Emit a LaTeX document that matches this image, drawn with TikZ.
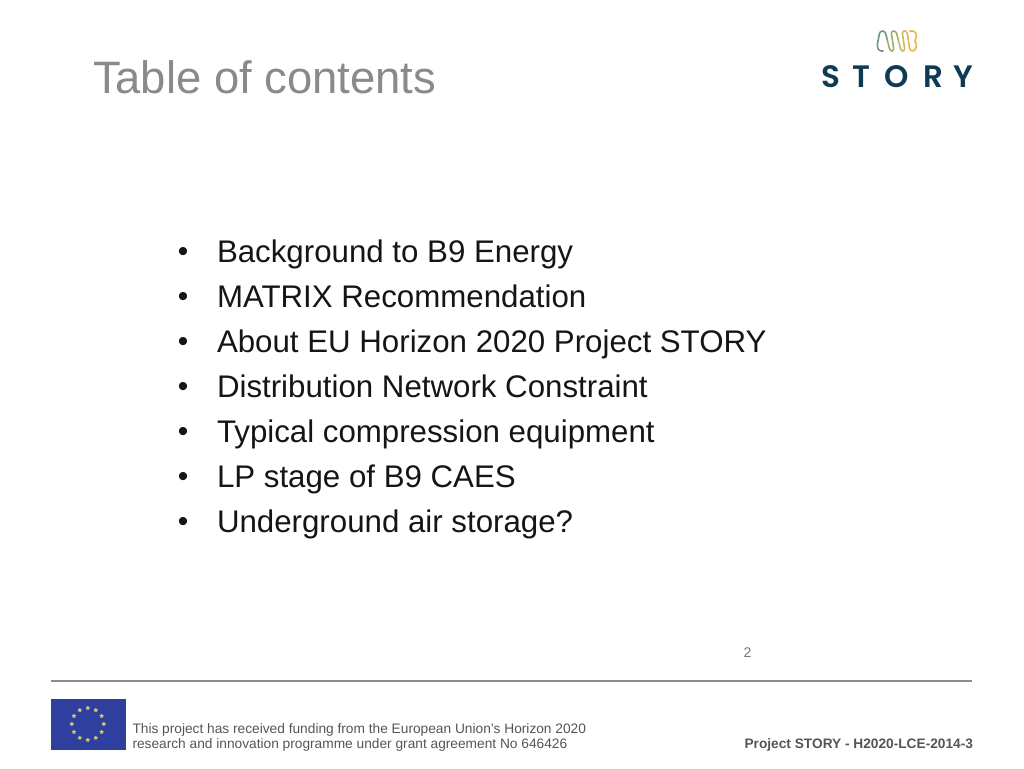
\documentclass[tikz,border=0pt]{standalone}
\usepackage{fontspec}
\setmainfont{Liberation Sans}
\newfontfamily\logofont{Poppins SemiBold}
\usetikzlibrary{shapes.geometric,calc}
\definecolor{titlegray}{HTML}{8A8A8A}
\definecolor{bodyink}{HTML}{151515}
\definecolor{footink}{HTML}{555555}
\definecolor{rulegray}{HTML}{8C8C8C}
\definecolor{eublue}{HTML}{2E3F9E}
\definecolor{eustar}{HTML}{D8C468}
\definecolor{storyblue}{HTML}{0F3A55}
\definecolor{wavea}{HTML}{6F9A7A}
\definecolor{waveb}{HTML}{9DB06A}
\definecolor{wavec}{HTML}{C8BC5E}
\definecolor{waved}{HTML}{E8B74E}
\tikzset{
  txt/.style={inner sep=0pt,outer sep=0pt,anchor=base west},
  titletxt/.style={txt,text=titlegray,font=\fontsize{45.4}{50}\selectfont},
  itemtxt/.style={txt,text=bodyink,font=\fontsize{31.25}{36}\selectfont},
  bullettxt/.style={inner sep=0pt,anchor=base,text=bodyink,font=\fontsize{30}{34}\selectfont},
  foottxt/.style={txt,text=footink,font=\fontsize{13.72}{16}\selectfont},
  logoletter/.style={inner sep=0pt,anchor=base,text=storyblue,font=\logofont\fontsize{31}{36}\selectfont},
  waveline/.style={line width=1.6pt,line cap=round,line join=round,rounded corners=2.5pt},
}
\begin{document}
\begin{tikzpicture}[x=1pt,y=-1pt]
\useasboundingbox (0,0) rectangle (1024,768);
\fill[white] (0,0) rectangle (1024,768);
\node[titletxt] (title) at (93,93) {Table of contents};
\foreach \n/\yy/\t in {a/262/Background to B9 Energy,b/307/MATRIX Recommendation,c/352/About EU Horizon 2020 Project STORY,d/397/Distribution Network Constraint,e/442/Typical compression equipment,f/487/LP stage of B9 CAES,g/532/Underground air storage?}{
  \node[bullettxt] (bul\n) at (183,\yy-1) {•};
  \node[itemtxt] (item\n) at (217,\yy) {\t};
}
\node[inner sep=0pt,anchor=base,text=footink!80,font=\fontsize{14}{16}\selectfont] (page) at (747.5,657) {2};
\coordinate (rulel) at (51,681);
\coordinate (ruler) at (972,681);
\draw[rulegray,line width=1.2pt] (rulel) -- (ruler);
\fill[eublue] (51,699) rectangle (126,750);
\foreach \i in {0,30,...,330}{
  \node[star,star points=5,star point ratio=1.6,fill=eustar,inner sep=0pt,minimum size=4.5pt] (star\i) at ($(87.8,724)+(\i:16)$) {};
}
\node[foottxt] (fa) at (132.5,733) {This project has received funding from the European Union’s Horizon 2020};
\node[foottxt] (fb) at (132.5,748.5) {research and innovation programme under grant agreement No 646426};
\node[foottxt,anchor=base east,font=\bfseries\fontsize{13.7}{16}\selectfont] (fc) at (973,748) {Project STORY - H2020-LCE-2014-3};
\node[logoletter] (ls) at (831,87) {S};
\node[logoletter] (lt) at (861.5,87) {T};
\node[logoletter] (lo) at (896.5,87) {O};
\node[logoletter] (lr) at (933.5,87) {R};
\node[logoletter] (ly) at (963.5,87) {Y};
\draw[waveline,wavea] (883,51) -- (879,51) -- (877,46) -- (880,31) -- (885,31) -- (887.5,41);
\draw[waveline,waveb] (887.5,41) -- (890,51) -- (894,51) -- (891,31) -- (896,31) -- (898.5,41);
\draw[waveline,wavec] (898.5,41) -- (901,51) -- (905,51) -- (902,31) -- (905,31);
\draw[waveline,waved] (905,31) -- (907,31) -- (910,51) -- (915,51) -- (917,44) -- (914,41) -- (917,37) -- (915,31) -- (910,31);
\end{tikzpicture}
\end{document}
